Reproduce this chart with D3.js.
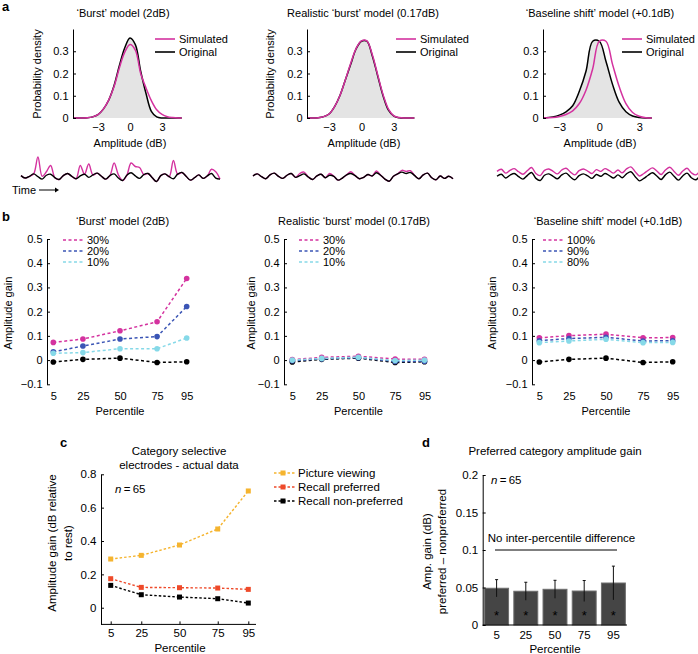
<!DOCTYPE html>
<html>
<head>
<meta charset="utf-8">
<script src="https://cdn.jsdelivr.net/npm/d3@7"></script>
<style>
body { margin: 0; background: #fff; }
svg text { font-family: "Liberation Sans", Arial, sans-serif; }
</style>
</head>
<body>
<div id="chart"></div>
<script>
// ---- panel a : amplitude densities ----
var gridBurst = [-5.3,-4.5,-4,-3.5,-3,-2.5,-2,-1.5,-1,-0.5,0,0.5,1,1.5,2,2.5,3,3.5,4,4.5,4.85];
var burstOrig = [0,0,0.001,0.005,0.015,0.04,0.08,0.145,0.235,0.315,0.36,0.33,0.21,0.11,0.03,0.005,0,0,0,0,0];
var burstSim  = [0,0,0.001,0.005,0.015,0.04,0.08,0.14,0.225,0.295,0.33,0.305,0.2,0.135,0.078,0.037,0.016,0.006,0.002,0,0];

var gridReal = [-5,-4.5,-4,-3.5,-3,-2.5,-2,-1.5,-1,-0.5,0,0.5,1,1.5,2,2.5,3,3.5,4,4.5,4.9];
var realOrig = [0,0,0.001,0.006,0.018,0.05,0.1,0.17,0.24,0.31,0.345,0.345,0.28,0.19,0.1,0.035,0.008,0.001,0,0,0];
var realSim  = [0,0,0.001,0.006,0.018,0.05,0.1,0.17,0.245,0.312,0.347,0.347,0.285,0.195,0.105,0.04,0.01,0.002,0,0,0];

var gridShift = [-4.2,-3.5,-3,-2.5,-2,-1.5,-1,-0.5,0,0.5,1,1.5,2,2.5,3,3.5,3.95];
var shiftOrig = [0,0.005,0.013,0.028,0.055,0.12,0.21,0.345,0.345,0.255,0.15,0.07,0.028,0.009,0.002,0,0];
var shiftSim  = [0,0.002,0.007,0.016,0.032,0.065,0.125,0.22,0.345,0.345,0.24,0.14,0.065,0.025,0.008,0.001,0];

// example time traces under panel a
var traceBurstOrig = [0.4,-0.3,0.2,0.9,0.1,-0.6,0.5,0.8,-0.2,-0.7,0.4,1.0,0.2,-0.5,0.3,0.8,-0.1,0.6,1.1,0.2,-0.6,0.4,0.9,-0.3,-1.0,0.5,1.2,0.3,-0.4,0.7,1.0,-0.2,-1.3,0.4,0.9,0.1,-0.5,0.8,1.3,0.2,-0.9,-0.2,0.6,-0.4,0.3,1.0,-0.3,-0.6];
var traceBurstSim  = [0.4,-0.3,0.2,0.9,5.7,0.2,1.5,3.3,-0.2,-0.7,0.4,1.0,0.2,-0.5,3.3,0.8,3.7,0.6,1.1,0.2,-0.6,0.4,4.0,0.6,-1.0,0.5,4.0,3.0,2.7,0.7,1.0,-0.2,-1.3,0.4,0.9,0.1,4.7,0.8,1.3,0.2,-0.9,-0.2,0.6,-0.4,0.3,2.2,1.5,-0.6];
var traceRealOrig  = [0.3,0.9,0.1,-0.5,0.6,1.1,0.2,-0.4,0.5,1.0,-0.1,0.4,0.9,0.0,-0.7,0.3,0.8,-0.2,0.5,0.2,-0.9,-0.3,0.6,1.0,0.4,-0.5,-0.1,0.7,0.3,1.2,0.5,-0.6,-1.2,0.2,0.9,1.4,1.0,1.3,0.4,-0.5,0.6,1.1,-0.2,-0.8,0.3,-0.4,0.2,-0.5];
var traceRealSim   = [0.3,0.9,0.1,-0.5,0.6,1.1,0.2,-0.4,0.5,1.0,-0.1,1.0,1.4,0.0,-0.7,0.3,0.8,-0.2,1.0,0.2,-0.9,-0.3,0.6,1.5,0.4,-0.5,-0.1,0.7,0.3,1.7,0.5,-0.6,-1.2,0.2,0.9,1.9,1.6,1.8,0.4,-0.5,0.6,1.1,-0.2,-0.8,0.3,-0.4,0.2,-0.5];
var traceShiftOrig = [0.2,0.8,-0.3,0.5,1.0,0.1,-0.6,0.4,1.3,-0.4,-1.0,0.5,0.9,0.2,-0.5,0.6,1.1,0.0,-0.8,0.4,0.9,0.3,-0.4,0.7,0.2,1.0,0.4,-0.3,0.6,-0.2,0.9,1.5,0.1,-1.1,-0.4,0.5,1.2,0.3,-0.7,0.6,1.4,0.2,-0.9,0.3,1.1,-0.2,-0.8,0.4];
var traceShiftSim  = [1.6,2.2,1.1,1.9,2.4,1.5,0.8,1.8,2.7,1.0,0.4,1.9,2.3,1.6,0.9,2.0,2.5,1.4,0.6,1.8,2.3,1.7,1.0,2.1,1.6,2.4,1.8,1.1,2.0,1.2,2.3,2.9,1.5,0.3,1.0,1.9,2.6,1.7,0.7,2.0,2.8,1.6,0.5,1.7,2.5,1.2,0.6,1.8];

// ---- panel b : amplitude gain per percentile ----
var percentiles = [5, 25, 50, 75, 95];
var origGain = [-0.008, 0.003, 0.008, -0.01, -0.007];
var burstGain30 = [0.073, 0.087, 0.121, 0.158, 0.337];
var burstGain20 = [0.034, 0.058, 0.087, 0.097, 0.221];
var burstGain10 = [0.028, 0.031, 0.047, 0.047, 0.091];
var realGain30 = [0.002, 0.011, 0.016, 0.004, 0.003];
var realGain20 = [-0.003, 0.005, 0.01, -0.006, -0.005];
var realGain10 = [0.0, 0.007, 0.012, -0.002, 0.0];
var shiftGain100 = [0.092, 0.101, 0.107, 0.092, 0.093];
var shiftGain90 = [0.08, 0.089, 0.094, 0.079, 0.08];
var shiftGain80 = [0.072, 0.079, 0.086, 0.072, 0.073];
var burstLabels = ["30%", "20%", "10%"];
var shiftLabels = ["100%", "90%", "80%"];

// ---- panel c : actual data ----
var pictureViewing = [0.292, 0.314, 0.376, 0.472, 0.70];
var recallPreferred = [0.174, 0.122, 0.12, 0.118, 0.11];
var recallNonPreferred = [0.134, 0.078, 0.064, 0.054, 0.028];
var cLabels = ["Picture viewing", "Recall preferred", "Recall non-preferred"];

// ---- panel d : preferred - nonpreferred ----
var prefGain = [0.049, 0.045, 0.0476, 0.0453, 0.056];
var prefErr = [0.0115, 0.012, 0.012, 0.014, 0.0225];

var FONT = '"Liberation Sans", Arial, sans-serif';
var magenta = "#d4329f", blue = "#3b55b5", cyan = "#86d9e8";
var gold = "#f5b42f", red = "#ee4a2a";

var svg = d3.select("#chart").append("svg")
    .attr("width", 698)
    .attr("height", 654);

function txt(x, y, s, size, anchor) {
    return svg.append("text")
        .attr("x", x).attr("y", y)
        .attr("font-size", size || 11)
        .attr("text-anchor", anchor || "middle")
        .attr("fill", "#000")
        .text(s);
}
function vtxt(x, y, s, size) {
    return svg.append("text")
        .attr("transform", "translate(" + x + "," + y + ") rotate(-90)")
        .attr("font-size", size || 11)
        .attr("text-anchor", "middle")
        .attr("fill", "#000")
        .text(s);
}
function styleAxis(g, size) {
    g.attr("font-family", FONT).attr("font-size", size || 11);
    g.selectAll("text").attr("fill", "#000");
}
function fmtGain(d) { return d === 0 ? "0" : d3.format(".1f")(d); }

// panel letters
txt(2, 11, "a", 13, "start").attr("font-weight", "bold");
txt(2, 221, "b", 13, "start").attr("font-weight", "bold");
txt(60, 447, "c", 13, "start").attr("font-weight", "bold");
txt(422, 447, "d", 13, "start").attr("font-weight", "bold");

// ================= panel a =================
function densityPanel(o) {
    var x = d3.scaleLinear().domain(o.xDomain).range([o.left, o.left + 109]);
    var y = d3.scaleLinear().domain([0, 0.4]).range([118, 29]);
    var orig = o.grid.map(function(v, i) { return [v, o.orig[i]]; });
    var sim = o.grid.map(function(v, i) { return [v, o.sim[i]]; });
    var curve = d3.curveCatmullRom.alpha(0.5);

    var area = d3.area()
        .x(function(d) { return x(d[0]); })
        .y0(y(0))
        .y1(function(d) { return y(d[1]); })
        .curve(curve);
    var line = d3.line()
        .x(function(d) { return x(d[0]); })
        .y(function(d) { return y(d[1]); })
        .curve(curve);

    svg.append("path").datum(orig).attr("d", area).attr("fill", "#e4e4e4");
    svg.append("path").datum(orig).attr("d", line)
        .attr("fill", "none").attr("stroke", "#000").attr("stroke-width", 1.5);
    svg.append("path").datum(sim).attr("d", line)
        .attr("fill", "none").attr("stroke", magenta).attr("stroke-width", 1.5);

    var ya = svg.append("g")
        .attr("transform", "translate(" + o.left + ",0)")
        .call(d3.axisLeft(y).tickValues([0, 0.1, 0.2, 0.3]).tickSize(-3).tickSizeOuter(0)
            .tickPadding(4.5).tickFormat(fmtGain));
    styleAxis(ya);
    var xa = svg.append("g")
        .attr("transform", "translate(0,118)")
        .call(d3.axisBottom(x).tickValues([-3, 0, 3]).tickSize(0).tickPadding(5).tickFormat(d3.format("d")));
    xa.select(".domain").remove();
    styleAxis(xa);

    txt(o.titleX, 17, o.title);
    txt(o.left + 57, 147, "Amplitude (dB)");
    if (o.ylabelX) vtxt(o.ylabelX, 74, "Probability density");

    // legend
    var lg = [["Simulated", magenta, 39], ["Original", "#000", 52]];
    lg.forEach(function(l) {
        svg.append("line").attr("x1", o.legX).attr("x2", o.legX + 20)
            .attr("y1", l[2]).attr("y2", l[2])
            .attr("stroke", l[1]).attr("stroke-width", 1.6);
        txt(o.legX + 24, l[2] + 4, l[0], 11, "start");
    });

    // time trace
    var tx = d3.scaleLinear().domain([0, o.tOrig.length - 1]).range(o.tRange);
    var ty = d3.scaleLinear().domain([-3, 6]).range([187.5, 156]);
    var tline = d3.line()
        .x(function(d, i) { return tx(i); })
        .y(function(d) { return ty(d); })
        .curve(d3.curveCatmullRom);
    svg.append("path").datum(o.tSim).attr("d", tline)
        .attr("fill", "none").attr("stroke", magenta).attr("stroke-width", 1.4);
    svg.append("path").datum(o.tOrig).attr("d", tline)
        .attr("fill", "none").attr("stroke", "#000").attr("stroke-width", 1.4);
}

densityPanel({left: 73, xDomain: [-5.34, 4.87], grid: gridBurst, orig: burstOrig, sim: burstSim,
    title: "\u2018Burst\u2019 model (2dB)", titleX: 123, ylabelX: 41, legX: 155,
    tOrig: traceBurstOrig, tSim: traceBurstSim, tRange: [21, 220]});
densityPanel({left: 307, xDomain: [-5.04, 5.05], grid: gridReal, orig: realOrig, sim: realSim,
    title: "Realistic \u2018burst\u2019 model (0.17dB)", titleX: 363, ylabelX: 273.5, legX: 396,
    tOrig: traceRealOrig, tSim: traceRealSim, tRange: [253, 453]});
densityPanel({left: 543, xDomain: [-4.23, 3.96], grid: gridShift, orig: shiftOrig, sim: shiftSim,
    title: "\u2018Baseline shift\u2019 model (+0.1dB)", titleX: 600, ylabelX: null, legX: 622,
    tOrig: traceShiftOrig, tSim: traceShiftSim, tRange: [497, 700]});

// Time arrow
txt(12, 194, "Time", 11, "start");
svg.append("line").attr("x1", 39).attr("x2", 55).attr("y1", 190).attr("y2", 190)
    .attr("stroke", "#000").attr("stroke-width", 1);
svg.append("path").attr("d", "M55,187.5 L59,190 L55,192.5 Z").attr("fill", "#000");

// ================= panel b =================
function gainPanel(o) {
    var x = d3.scaleLinear().domain([5, 95]).range([o.x5, o.x95]);
    var y = d3.scaleLinear().domain([-0.1, 0.5]).range([384.3, 239]);
    var line = d3.line()
        .x(function(d, i) { return x(percentiles[i]); })
        .y(function(d) { return y(d); });

    var series = [[origGain, "#000"], [o.s[0], magenta], [o.s[1], blue], [o.s[2], cyan]];
    series.forEach(function(s) {
        svg.append("path").datum(s[0]).attr("d", line)
            .attr("fill", "none").attr("stroke", s[1]).attr("stroke-width", 1.5)
            .attr("stroke-dasharray", "3,2.5");
        svg.selectAll(null).data(s[0]).enter().append("circle")
            .attr("cx", function(d, i) { return x(percentiles[i]); })
            .attr("cy", function(d) { return y(d); })
            .attr("r", 2.8)
            .attr("fill", s[1]);
    });

    var ya = svg.append("g")
        .attr("transform", "translate(" + o.axisX + ",0)")
        .call(d3.axisLeft(y).tickValues([-0.1, 0, 0.1, 0.2, 0.3, 0.4, 0.5]).tickSize(-3).tickSizeOuter(0)
            .tickPadding(4.5).tickFormat(fmtGain));
    styleAxis(ya);
    var xa = svg.append("g")
        .attr("transform", "translate(0,384.3)")
        .call(d3.axisBottom(x).tickValues(percentiles).tickSize(0).tickPadding(7.5).tickFormat(d3.format("d")));
    xa.select(".domain").remove();
    styleAxis(xa);

    txt(o.titleX, 225, o.title);
    txt((o.x5 + o.x95) / 2, 414.5, "Percentile");
    vtxt(o.ylabelX, 313, "Amplitude gain");

    [240, 251, 262].forEach(function(ly, i) {
        svg.append("line").attr("x1", o.legX).attr("x2", o.legX + 20)
            .attr("y1", ly).attr("y2", ly)
            .attr("stroke", series[i + 1][1]).attr("stroke-width", 1.5)
            .attr("stroke-dasharray", "3,2.5");
        txt(o.legX + 24, ly + 4, o.labels[i], 11, "start");
    });
}

gainPanel({axisX: 47, x5: 53.3, x95: 186.7, s: [burstGain30, burstGain20, burstGain10],
    labels: burstLabels, title: "\u2018Burst\u2019 model (2dB)", titleX: 122.5, ylabelX: 12, legX: 63});
gainPanel({axisX: 284, x5: 292.3, x95: 424.5, s: [realGain30, realGain20, realGain10],
    labels: burstLabels, title: "Realistic \u2018burst\u2019 model (0.17dB)", titleX: 354, ylabelX: 254.5, legX: 299});
gainPanel({axisX: 532, x5: 539.3, x95: 672.7, s: [shiftGain100, shiftGain90, shiftGain80],
    labels: shiftLabels, title: "\u2018Baseline shift\u2019 model (+0.1dB)", titleX: 608, ylabelX: 495.5, legX: 543});

// ================= panel c =================
(function() {
    var x = d3.scaleLinear().domain([5, 95]).range([110.7, 248.3]);
    var y = d3.scaleLinear().domain([-0.1, 0.8]).range([624.4, 474.3]);
    var line = d3.line()
        .x(function(d, i) { return x(percentiles[i]); })
        .y(function(d) { return y(d); });
    var series = [[pictureViewing, gold], [recallPreferred, red], [recallNonPreferred, "#000"]];

    series.forEach(function(s) {
        svg.append("path").datum(s[0]).attr("d", line)
            .attr("fill", "none").attr("stroke", s[1]).attr("stroke-width", 1.4)
            .attr("stroke-dasharray", "2.5,2");
        svg.selectAll(null).data(s[0]).enter().append("rect")
            .attr("x", function(d, i) { return x(percentiles[i]) - 2.5; })
            .attr("y", function(d) { return y(d) - 2.5; })
            .attr("width", 5).attr("height", 5)
            .attr("fill", s[1]);
    });

    var ya = svg.append("g")
        .attr("transform", "translate(101,0)")
        .call(d3.axisLeft(y).tickValues([0, 0.2, 0.4, 0.6, 0.8]).tickSize(-3).tickSizeOuter(0)
            .tickPadding(4.5).tickFormat(fmtGain));
    styleAxis(ya, 11.5);
    var xa = svg.append("g")
        .attr("transform", "translate(0,624.4)")
        .call(d3.axisBottom(x).tickValues(percentiles).tickSize(-3).tickSizeOuter(0)
            .tickPadding(4.5).tickFormat(d3.format("d")));
    xa.select(".domain").attr("d", "M101,0H256");
    styleAxis(xa, 11.5);

    txt(179, 454.5, "Category selective", 11.5);
    txt(179, 468.5, "electrodes - actual data", 11.5);
    txt(180, 652, "Percentile", 11.5);
    vtxt(55.5, 543, "Amplitude gain (dB relative", 11.5);
    vtxt(72, 543, "to rest)", 11.5);

    var n = txt(115, 493, "", 11.5, "start");
    n.append("tspan").attr("font-style", "italic").text("n");
    n.append("tspan").text("\u2009=\u200965");

    [473, 487, 501].forEach(function(ly, i) {
        svg.append("line").attr("x1", 274).attr("x2", 295)
            .attr("y1", ly).attr("y2", ly)
            .attr("stroke", series[i][1]).attr("stroke-width", 1.4)
            .attr("stroke-dasharray", "2.5,2");
        svg.append("rect").attr("x", 280.5).attr("y", ly - 2.5)
            .attr("width", 5).attr("height", 5).attr("fill", series[i][1]);
        txt(298, ly + 4, cLabels[i], 11.5, "start");
    });
})();

// ================= panel d =================
(function() {
    var x = d3.scaleBand().domain(percentiles).range([482, 628]).paddingInner(0.18).paddingOuter(0.09);
    var y = d3.scaleLinear().domain([0, 0.2]).range([625, 475]);

    svg.selectAll(".bar").data(prefGain).enter().append("rect")
        .attr("class", "bar")
        .attr("x", function(d, i) { return x(percentiles[i]); })
        .attr("y", function(d) { return y(d); })
        .attr("width", x.bandwidth())
        .attr("height", function(d) { return 625 - y(d); })
        .attr("fill", "#454545")
        .attr("stroke", "#6e6e6e")
        .attr("stroke-width", 1);

    svg.selectAll(".err").data(prefGain).enter().append("line")
        .attr("class", "err")
        .attr("x1", function(d, i) { return x(percentiles[i]) + x.bandwidth() / 2; })
        .attr("x2", function(d, i) { return x(percentiles[i]) + x.bandwidth() / 2; })
        .attr("y1", function(d, i) { return y(d + prefErr[i]); })
        .attr("y2", function(d, i) { return y(d - prefErr[i]); })
        .attr("stroke", "#111").attr("stroke-width", 1);
    svg.selectAll(".cap").data(prefGain).enter().append("line")
        .attr("class", "cap")
        .attr("x1", function(d, i) { return x(percentiles[i]) + x.bandwidth() / 2 - 1.5; })
        .attr("x2", function(d, i) { return x(percentiles[i]) + x.bandwidth() / 2 + 1.5; })
        .attr("y1", function(d, i) { return y(d + prefErr[i]); })
        .attr("y2", function(d, i) { return y(d + prefErr[i]); })
        .attr("stroke", "#111").attr("stroke-width", 1);

    svg.selectAll(".star").data(prefGain).enter().append("text")
        .attr("class", "star")
        .attr("x", function(d, i) { return x(percentiles[i]) + x.bandwidth() / 2; })
        .attr("y", 620)
        .attr("text-anchor", "middle")
        .attr("font-size", 13)
        .attr("fill", "#000")
        .text("*");

    var ya = svg.append("g")
        .attr("transform", "translate(482.7,0)")
        .call(d3.axisLeft(y).tickValues([0, 0.05, 0.1, 0.15, 0.2]).tickSize(-3).tickSizeOuter(0)
            .tickPadding(4.5).tickFormat(function(d) { return String(d); }));
    styleAxis(ya, 11.5);
    var xa = svg.append("g")
        .attr("transform", "translate(0,625)")
        .call(d3.axisBottom(x).tickSize(0).tickPadding(5.5));
    xa.select(".domain").attr("d", "M482.7,0H627");
    styleAxis(xa, 11.5);

    // significance line
    svg.append("line").attr("x1", 495).attr("x2", 617)
        .attr("y1", y(0.1)).attr("y2", y(0.1))
        .attr("stroke", "#000").attr("stroke-width", 1);
    txt(561.5, 542, "No inter-percentile difference", 11.5);

    txt(555, 455, "Preferred category amplitude gain", 11.5);
    txt(555, 652.5, "Percentile", 11.5);
    vtxt(430.5, 551.5, "Amp. gain (dB)", 11.5);
    vtxt(446, 551.5, "preferred \u2013 nonpreferred", 11.5);

    var n = txt(491, 483.5, "", 11.5, "start");
    n.append("tspan").attr("font-style", "italic").text("n");
    n.append("tspan").text("\u2009=\u200965");
})();
</script>
</body>
</html>
